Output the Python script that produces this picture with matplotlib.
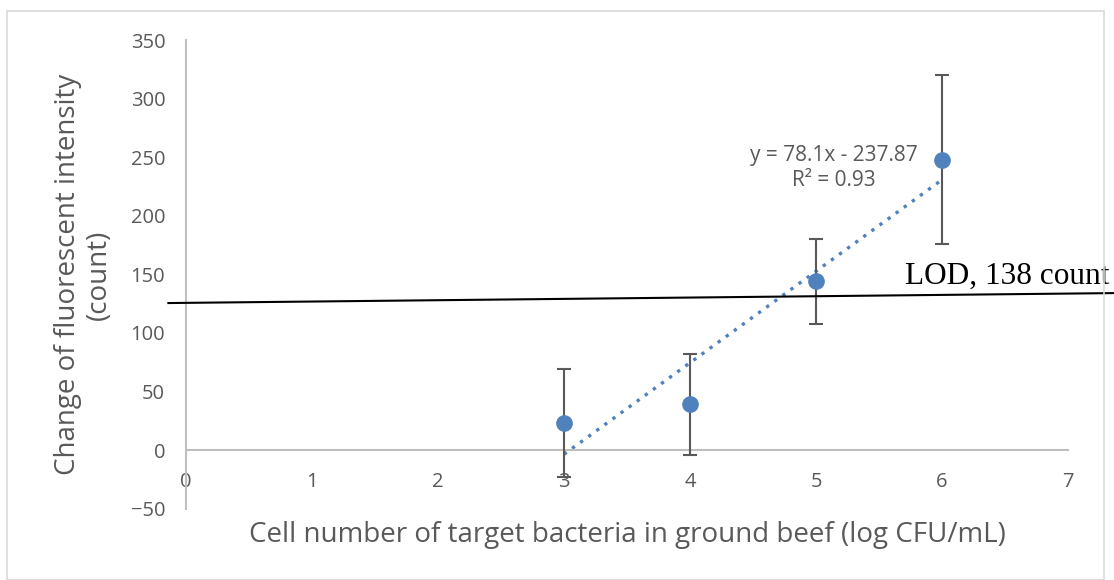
import matplotlib.pyplot as plt
from matplotlib.lines import Line2D
from matplotlib.patches import Rectangle

# データ
log_cfu = [3, 4, 5, 6]
intensity = [23, 39, 144, 248]
err = [46, 43, 36, 72]

slope, intercept = 78.1, -237.87
fit_x = [3, 6]
lod_x = [-0.14, 7.37]
lod_y = [125.5, 134]

xticks = [0, 1, 2, 3, 4, 5, 6, 7]
yticks = [-50, 0, 50, 100, 150, 200, 250, 300, 350]

gray = "#595959"
blue = "#4F81BD"
plt.rcParams["font.family"] = ["Open Sans", "DejaVu Sans"]

fig = plt.figure(figsize=(11.14, 5.8), dpi=100)
fig.patches.append(Rectangle((7 / 1114, 0), 1097 / 1114, 569 / 580, transform=fig.transFigure,
                             fill=False, edgecolor="#d9d9d9", linewidth=1.2))
ax = fig.add_axes([0.167, 0.123, 0.7917, 0.808])

ax.errorbar(log_cfu, intensity, yerr=err, fmt="o", color=blue, markersize=11,
            ecolor=gray, elinewidth=1.5, capsize=5, capthick=1.5, zorder=3)
fit_y = [slope * x + intercept for x in fit_x]
ax.plot(fit_x, fit_y, color=blue, linestyle=(0, (1, 2)), linewidth=2.4, zorder=2)

ax.add_line(Line2D(lod_x, lod_y, color="black", linewidth=1.5, clip_on=False, zorder=4))
ax.text(7.33, 142, "LOD, 138 count", family=["Liberation Serif"], fontsize=22.5,
        ha="right", va="baseline", color="black")
ax.text(5.14, 241, "y = 78.1x - 237.87\nR² = 0.93", ha="center", va="center",
        fontsize=15, color=gray, linespacing=1.25)

ax.set_xlim(0, 7)
ax.set_ylim(-50, 350)
ax.set_xticks(xticks)
ax.set_yticks(yticks)
ax.spines["top"].set_visible(False)
ax.spines["right"].set_visible(False)
ax.spines["bottom"].set_position(("data", 0))
ax.spines["bottom"].set_color("#bfbfbf")
ax.spines["left"].set_color("#bfbfbf")
ax.spines["bottom"].set_linewidth(1.5)
ax.spines["left"].set_linewidth(1.5)
ax.tick_params(axis="x", length=0, pad=16, labelsize=14.5, labelcolor=gray)
ax.tick_params(axis="y", length=0, pad=15, labelsize=14.5, labelcolor=gray)

ax.set_ylabel("Change of fluorescent intensity\n(count)", fontsize=20, color=gray,
              linespacing=1.15)
ax.yaxis.set_label_coords(-0.083, 0.5)
ax.set_xlabel("Cell number of target bacteria in ground beef (log CFU/mL)", fontsize=20,
              color=gray)
ax.xaxis.set_label_coords(0.5, -0.026)

fig.savefig("out.png", dpi=100)
